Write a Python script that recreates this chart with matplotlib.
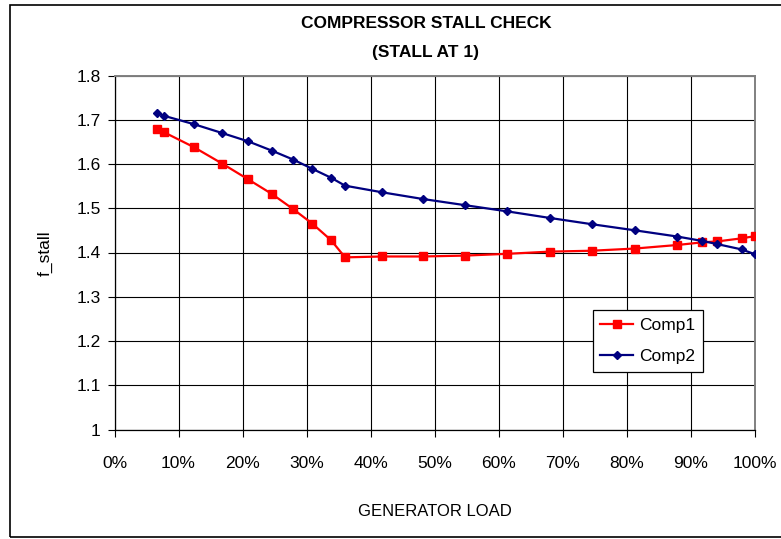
import matplotlib
matplotlib.use("Agg")
import matplotlib.pyplot as plt
from matplotlib.patches import Rectangle
from matplotlib.ticker import PercentFormatter, MultipleLocator

plt.rcParams['font.family'] = ['Liberation Sans', 'DejaVu Sans']

# Generator load (fraction of rated) and stall factor for each compressor
load = [0.066, 0.077, 0.124, 0.168, 0.209, 0.246, 0.279, 0.309, 0.338, 0.360,
        0.418, 0.481, 0.547, 0.613, 0.680, 0.745, 0.813, 0.879, 0.918, 0.941,
        0.979, 1.000]
comp1 = [1.680, 1.672, 1.638, 1.601, 1.565, 1.532, 1.498, 1.465, 1.428, 1.389,
         1.391, 1.391, 1.393, 1.397, 1.402, 1.404, 1.409, 1.417, 1.423, 1.425,
         1.432, 1.437]
comp2 = [1.715, 1.709, 1.690, 1.670, 1.651, 1.630, 1.610, 1.589, 1.569, 1.551,
         1.536, 1.521, 1.507, 1.493, 1.478, 1.464, 1.450, 1.436, 1.426, 1.419,
         1.407, 1.396]

title_lines = ["COMPRESSOR STALL CHECK", "(STALL AT 1)"]
x_label = "GENERATOR LOAD"
y_label = "f_stall"

fig = plt.figure(figsize=(7.81, 5.39), dpi=100)
ax = fig.add_axes([114.5 / 781, 1 - 429.5 / 539, (755 - 114.5) / 781, (429.5 - 75.5) / 539])

ax.plot(load, comp1, color='#FF0000', lw=1.6, marker='s', ms=6,
        markeredgecolor='#FF0000', label='Comp1', zorder=4)
ax.plot(load, comp2, color='#000080', lw=1.6, marker='D', ms=4.3,
        markeredgecolor='#000080', label='Comp2', zorder=4)

ax.set_xlim(0, 1)
ax.set_ylim(1.0, 1.8)
ax.xaxis.set_major_locator(MultipleLocator(0.1))
ax.yaxis.set_major_locator(MultipleLocator(0.1))
ax.xaxis.set_major_formatter(PercentFormatter(1.0, decimals=0))
ax.yaxis.set_major_formatter(plt.FuncFormatter(lambda v, p: f"{v:g}"))
ax.grid(True, color='black', lw=0.8)
ax.set_axisbelow(True)
ax.tick_params(direction='out', length=5, width=0.8, color='black',
               labelsize=12.5, pad=5)
ax.tick_params(axis='x', pad=14)

for side in ('top', 'right'):
    ax.spines[side].set_color('#808080')
    ax.spines[side].set_linewidth(1.4)
for side in ('left', 'bottom'):
    ax.spines[side].set_color('black')
    ax.spines[side].set_linewidth(0.9)

fig.text(426 / 781, 1 - 24 / 539, title_lines[0], ha='center', va='center',
         fontsize=12.5, fontweight='bold')
fig.text(426 / 781, 1 - 53 / 539, title_lines[1], ha='center', va='center',
         fontsize=12.5, fontweight='bold')
fig.text(435 / 781, 1 - 511 / 539, x_label, ha='center', va='center', fontsize=12)
fig.text(45 / 781, 1 - 253 / 539, y_label, ha='center', va='center',
         fontsize=12.5, rotation=90)

leg = ax.legend(loc='upper left', bbox_to_anchor=((592.5 - 114.5) / 640.5, (429.5 - 310) / 354),
                fontsize=12.5, frameon=True, fancybox=False, edgecolor='black',
                framealpha=1, borderpad=0.45, handlelength=1.9, handletextpad=0.35,
                labelspacing=0.9, borderaxespad=0)
leg.get_frame().set_linewidth(0.9)

# Chart area border
fig.patches.append(Rectangle((10 / 781, 2 / 539), 1.0, 532 / 539,
                             transform=fig.transFigure, fill=False,
                             edgecolor='black', lw=1.2))

fig.savefig('out.png', dpi=100)
